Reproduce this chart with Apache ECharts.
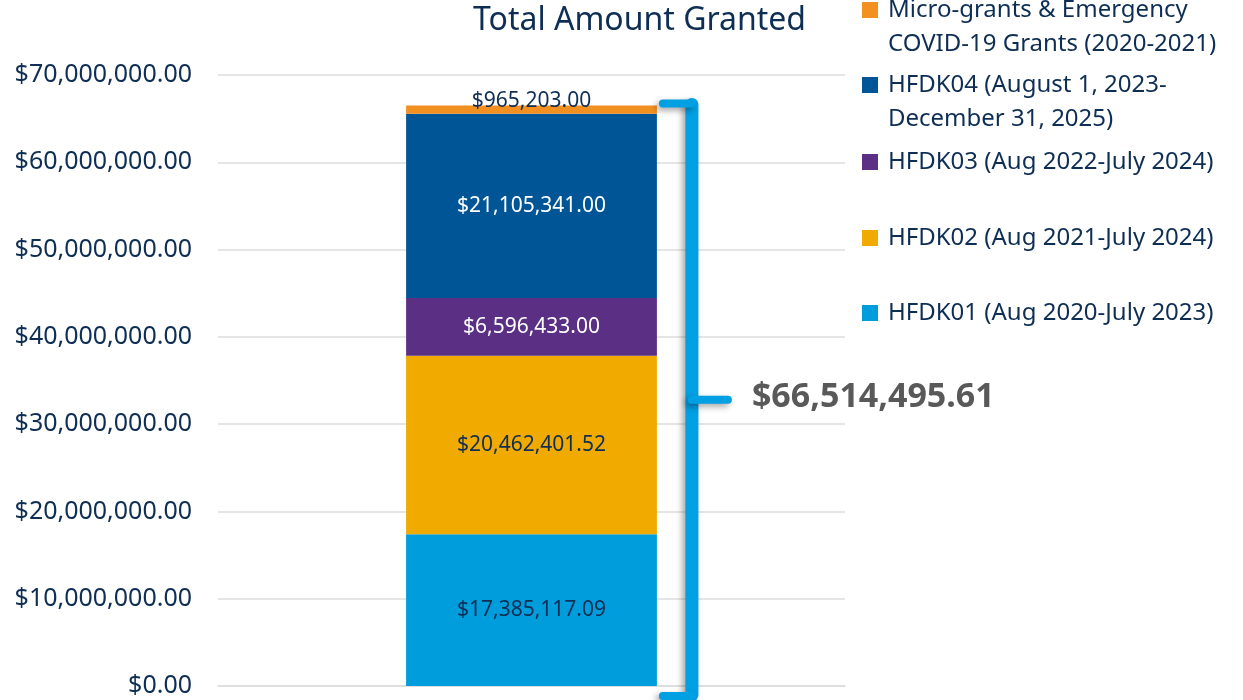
<!DOCTYPE html>
<html>
<head>
<meta charset="utf-8">
<script src="https://cdn.jsdelivr.net/npm/echarts@6/dist/echarts.min.js"></script>
<style>
  html, body { margin: 0; padding: 0; background: #fff; }
  #chart { width: 1243px; height: 700px; }
</style>
</head>
<body>
<div id="chart"></div>
<script>
// data
const categories = ['Total Amount Granted'];
const seriesNames = [
    'HFDK01 (Aug 2020-July 2023)',
    'HFDK02 (Aug 2021-July 2024)',
    'HFDK03 (Aug 2022-July 2024)',
    'HFDK04 (August 1, 2023-\nDecember 31, 2025)',
    'Micro-grants & Emergency\nCOVID-19 Grants (2020-2021)'
];
const hfdk01 = [17385117.09];
const hfdk02 = [20462401.52];
const hfdk03 = [6596433.00];
const hfdk04 = [21105341.00];
const microGrants = [965203.00];
const totalGranted = [66514495.61];
const yTicks = [0, 10000000, 20000000, 30000000, 40000000, 50000000, 60000000, 70000000];

const seriesData = [hfdk01, hfdk02, hfdk03, hfdk04, microGrants];
const colors = ['#009DDC', '#F1AA00', '#5B2F83', '#005596', '#F29022'];
const labelColors = ['#0E2E54', '#0E2E54', '#ffffff', '#ffffff', '#0E2E54'];
const legendTops = [296, 221, 145, 34, -41];
const navy = '#0E2E54';
const font = '"Noto Sans", "Open Sans", sans-serif';

const money = (v) => '$' + Number(v).toLocaleString('en-US', { minimumFractionDigits: 2, maximumFractionDigits: 2 });

const chart = echarts.init(document.getElementById('chart'));

const barSeries = seriesNames.map((name, i) => ({
    name: name,
    type: 'bar',
    stack: 'total',
    barWidth: '40%',
    data: seriesData[i],
    itemStyle: { color: colors[i] },
    label: {
        show: true,
        position: i === 4 ? 'top' : 'inside',
        distance: 0,
        offset: i === 4 ? [0, 6] : [0, 0],
        fontFamily: font,
        fontSize: 21,
        color: labelColors[i],
        formatter: (p) => money(p.value)
    }
}));

// curly brace + total, positioned through the axes
const braceSeries = {
    type: 'custom',
    name: 'brace',
    silent: true,
    z: 5,
    data: [[0, totalGranted[0]]],
    encode: { x: 0, y: 1 },
    renderItem: function (params, api) {
        const top = api.coord([api.value(0), api.value(1)]);
        const bottom = api.coord([api.value(0), 0]);
        const band = api.size([1, 0])[0];
        const barRight = top[0] + band * 0.2;
        const xL = barRight + 6;
        const xV = barRight + 35;
        const yTop = top[1] - 2;
        const yBot = bottom[1] + 10;
        const yMid = (yTop + yBot) / 2;
        const blue = '#00A0E3';
        const shadow = { shadowBlur: 6, shadowColor: 'rgba(0,0,0,0.35)', shadowOffsetX: -3, shadowOffsetY: 3 };
        const stroke = (w) => Object.assign({ stroke: blue, lineWidth: w, lineCap: 'round', lineJoin: 'round', fill: null }, shadow);
        return {
            type: 'group',
            children: [
                { type: 'line', shape: { x1: xV, y1: yTop + 1, x2: xV, y2: yBot - 1 }, style: stroke(13) },
                { type: 'line', shape: { x1: xL, y1: yTop, x2: xV, y2: yTop }, style: stroke(8) },
                { type: 'line', shape: { x1: xL, y1: yBot, x2: xV, y2: yBot }, style: stroke(8) },
                { type: 'line', shape: { x1: xV, y1: yMid, x2: xV + 36, y2: yMid }, style: stroke(8) },
                {
                    type: 'text',
                    x: xV + 60,
                    y: yMid - 2,
                    style: {
                        text: money(api.value(1)),
                        fontFamily: font,
                        fontSize: 34,
                        fontWeight: 'bold',
                        fill: '#595959',
                        verticalAlign: 'middle',
                        align: 'left'
                    }
                }
            ]
        };
    }
};

const option = {
    animation: false,
    textStyle: { fontFamily: font },
    title: {
        text: 'Total Amount Granted',
        left: 468,
        top: 0,
        textStyle: { fontFamily: font, fontSize: 32, fontWeight: 'normal', color: navy }
    },
    legend: seriesNames.map((name, i) => ({
        data: [name],
        left: 862,
        top: legendTops[i],
        padding: 0,
        icon: 'rect',
        itemWidth: 16,
        itemHeight: 16,
        itemGap: 0,
        selectedMode: false,
        // two-line names get an empty first line so the marker sits on line one
        formatter: (n) => n.indexOf('\n') >= 0 ? '\u00a0\n' + n : n,
        textStyle: {
            fontFamily: font,
            fontSize: 24,
            color: navy,
            lineHeight: 34,
            padding: [0, 0, 0, 5]
        }
    })),
    grid: { left: 218, right: 398, top: 75, bottom: 14, containLabel: false },
    xAxis: {
        type: 'category',
        data: categories,
        axisLine: { lineStyle: { color: '#dcdcdc', width: 1.5 } },
        axisTick: { show: false },
        axisLabel: { show: false }
    },
    yAxis: {
        type: 'value',
        min: yTicks[0],
        max: yTicks[yTicks.length - 1],
        interval: yTicks[1] - yTicks[0],
        axisLine: { show: false },
        axisTick: { show: false },
        splitLine: { lineStyle: { color: '#dcdcdc', width: 1.5 } },
        axisLabel: {
            margin: 26,
            fontFamily: font,
            fontSize: 25,
            color: navy,
            formatter: (v) => money(v)
        }
    },
    series: barSeries.concat([braceSeries])
};

chart.setOption(option);
</script>
</body>
</html>
